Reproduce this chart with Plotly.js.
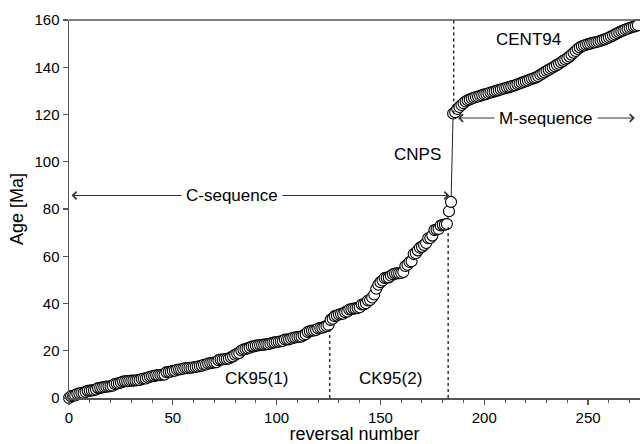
<!DOCTYPE html>
<html>
<head>
<meta charset="utf-8">
<script src="https://cdn.plot.ly/plotly-3.0.1.min.js"></script>
<style>html,body{margin:0;padding:0;background:#fff;}#chart{width:640px;height:444px;}</style>
</head>
<body>
<div id="chart"></div>
<script>
// Ages (Ma) of successive polarity reversals, C-sequence (CK95), reversal numbers 0..184
const cSequenceAges = [
  0.000, 0.780, 0.990, 1.070, 1.770, 1.950, 2.140, 2.150, 2.581, 3.040,
  3.110, 3.220, 3.330, 3.580, 4.180, 4.290, 4.480, 4.620, 4.800, 4.890,
  4.980, 5.230, 5.894, 6.137, 6.269, 6.567, 6.935, 7.091, 7.135, 7.170,
  7.341, 7.375, 7.432, 7.562, 7.650, 8.072, 8.225, 8.257, 8.699, 9.025,
  9.230, 9.308, 9.580, 9.642, 9.740, 9.880, 9.920, 10.949, 11.052, 11.099,
  11.476, 11.531, 11.935, 12.078, 12.184, 12.401, 12.678, 12.708, 12.775, 12.819,
  12.991, 13.139, 13.302, 13.510, 13.703, 14.076, 14.178, 14.612, 14.800, 14.888,
  15.034, 15.155, 16.014, 16.293, 16.327, 16.488, 16.556, 16.726, 17.277, 17.615,
  18.281, 18.781, 19.048, 20.131, 20.518, 20.725, 20.996, 21.320, 21.768, 21.859,
  22.151, 22.248, 22.459, 22.493, 22.588, 22.750, 22.804, 23.069, 23.353, 23.535,
  23.677, 23.800, 23.999, 24.118, 24.730, 24.781, 24.835, 25.183, 25.496, 25.648,
  25.823, 25.951, 25.992, 26.554, 27.027, 27.972, 28.283, 28.512, 28.578, 28.745,
  29.401, 29.662, 29.765, 30.098, 30.479, 30.939, 33.058, 33.545, 34.655, 34.940,
  35.343, 35.526, 35.685, 36.341, 36.618, 37.473, 37.604, 37.848, 37.920, 38.113,
  38.426, 39.552, 39.631, 40.130, 41.257, 41.521, 42.536, 43.789, 46.264, 47.906,
  49.037, 49.714, 50.778, 50.946, 51.047, 51.743, 52.364, 52.663, 52.757, 52.801,
  52.903, 53.347, 55.904, 56.391, 57.554, 57.911, 60.920, 61.276, 62.499, 63.634,
  63.976, 64.745, 65.578, 67.610, 67.735, 68.737, 71.071, 71.338, 71.587, 73.004,
  73.291, 73.374, 73.619, 79.075, 83.000
];
// M-sequence (CENT94), reversal numbers 185..274
const mSequenceAges = [
  120.4, 121.0, 122.3, 123.2, 124.0, 124.8, 125.5, 126.0, 126.4, 126.8,
  127.1, 127.4, 127.6, 127.9, 128.2, 128.5, 128.7, 129.0, 129.3, 129.5,
  129.8, 130.1, 130.3, 130.6, 130.9, 131.1, 131.4, 131.6, 131.9, 132.2,
  132.4, 132.8, 133.1, 133.4, 133.8, 134.1, 134.4, 134.8, 135.1, 135.4,
  135.7, 136.2, 136.8, 137.3, 137.9, 138.4, 138.9, 139.5, 139.9, 140.4,
  141.0, 141.5, 142.1, 142.7, 143.3, 143.8, 144.5, 145.3, 146.1, 146.9,
  147.7, 148.4, 148.9, 149.2, 149.5, 149.8, 150.0, 150.3, 150.5, 150.7,
  150.9, 151.2, 151.5, 151.8, 152.2, 152.6, 153.0, 153.4, 153.9, 154.4,
  154.8, 155.2, 155.6, 156.0, 156.3, 156.6, 156.9, 157.2, 157.5, 157.8
];
const xTickVals = [0, 50, 100, 150, 200, 250];
const yTickVals = [0, 20, 40, 60, 80, 100, 120, 140, 160];

const ages = cSequenceAges.concat(mSequenceAges);
const reversalNumber = ages.map((_, i) => i);

const FONT = 'Liberation Sans, Arial, Helvetica, sans-serif';
const AX = '#555555';

const trace = {
  x: reversalNumber, y: ages, type: 'scatter', mode: 'lines+markers',
  line: {color: '#222', width: 1},
  marker: {symbol: 'circle', size: 11, color: '#ffffff', line: {color: '#000', width: 1.1}},
  cliponaxis: false, hoverinfo: 'x+y'
};

const axisCommon = {
  showgrid: false, zeroline: false, showline: true, linecolor: AX, linewidth: 1.5,
  ticks: 'outside', ticklen: 5, tickwidth: 1.2, tickcolor: AX,
  tickfont: {family: FONT, size: 15, color: '#000'}
};

const annFont = {family: FONT, size: 17, color: '#000'};
const layout = {
  width: 640, height: 444,
  margin: {l: 69, r: 0, t: 20, b: 46, pad: 0},
  paper_bgcolor: '#fff', plot_bgcolor: '#fff',
  showlegend: false,
  xaxis: Object.assign({}, axisCommon, {
    range: [0, 275], tickvals: xTickVals,
    minor: {dtick: 10, ticks: 'outside', ticklen: 3, tickcolor: AX, tickwidth: 1},
    title: {text: 'reversal number', font: {family: FONT, size: 18, color: '#000'}, standoff: 8}
  }),
  yaxis: Object.assign({}, axisCommon, {
    range: [0, 160], tickvals: yTickVals,
    title: {text: 'Age [Ma]', font: {family: FONT, size: 18, color: '#000'}, standoff: 6}
  }),
  shapes: [
    {type: 'line', xref: 'paper', yref: 'paper', x0: 0, x1: 1, y0: 1, y1: 1, line: {color: AX, width: 1.5}},
    {type: 'line', xref: 'x', yref: 'y', x0: 125.6, x1: 125.6, y0: 0, y1: 30.9, line: {color: '#000', width: 1.2, dash: 'dot'}},
    {type: 'line', xref: 'x', yref: 'y', x0: 182.6, x1: 182.6, y0: 0, y1: 73.6, line: {color: '#000', width: 1.2, dash: 'dot'}},
    {type: 'line', xref: 'x', yref: 'y', x0: 185.3, x1: 185.3, y0: 120.4, y1: 160, line: {color: '#000', width: 1.2, dash: 'dot'}}
  ],
  annotations: [
    {x: 183.2, y: 85.7, ax: 0.5, ay: 85.7, xref: 'x', yref: 'y', axref: 'x', ayref: 'y', text: '',
     showarrow: true, arrowside: 'end+start', arrowhead: 4, startarrowhead: 4, arrowsize: 1.5, startarrowsize: 1.5,
     arrowwidth: 1, arrowcolor: '#333', standoff: 0, startstandoff: 0},
    {x: 78.5, y: 85.7, xref: 'x', yref: 'y', text: 'C-sequence', showarrow: false, font: annFont, bgcolor: '#fff', borderpad: 4},
    {x: 272.5, y: 118.5, ax: 186.6, ay: 118.5, xref: 'x', yref: 'y', axref: 'x', ayref: 'y', text: '',
     showarrow: true, arrowside: 'end+start', arrowhead: 4, startarrowhead: 4, arrowsize: 1.5, startarrowsize: 1.5,
     arrowwidth: 1, arrowcolor: '#333', standoff: 0, startstandoff: 0},
    {x: 229.7, y: 118.5, xref: 'x', yref: 'y', text: 'M-sequence', showarrow: false, font: annFont, bgcolor: '#fff', borderpad: 4},
    {x: 167.8, y: 102.9, xref: 'x', yref: 'y', text: 'CNPS', showarrow: false, font: annFont},
    {x: 221.5, y: 151.6, xref: 'x', yref: 'y', text: 'CENT94', showarrow: false, font: annFont},
    {x: 90.4, y: 8.3, xref: 'x', yref: 'y', text: 'CK95(1)', showarrow: false, font: annFont},
    {x: 155, y: 8.4, xref: 'x', yref: 'y', text: 'CK95(2)', showarrow: false, font: annFont}
  ]
};

Plotly.newPlot('chart', [trace], layout, {displayModeBar: false, staticPlot: true});
</script>
</body>
</html>
